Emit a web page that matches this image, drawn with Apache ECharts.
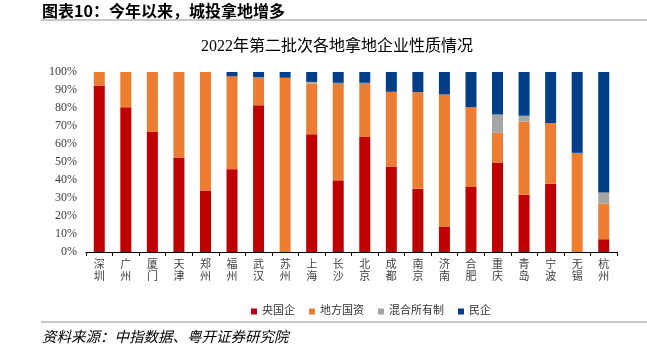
<!DOCTYPE html>
<html>
<head>
<meta charset="utf-8">
<script src="https://cdn.jsdelivr.net/npm/echarts@6/dist/echarts.min.js"></script>
<style>
  html, body { margin: 0; padding: 0; background: #fff; }
  #main { width: 647px; height: 352px; }
</style>
</head>
<body>
<div id="main"></div>
<script>
// 城市
var cities = ['深圳', '广州', '厦门', '天津', '郑州', '福州', '武汉', '苏州', '上海', '长沙',
  '北京', '成都', '南京', '济南', '合肥', '重庆', '青岛', '宁波', '无锡', '杭州'];
// 各类企业占比（%）
var centralSOE = [92.5, 80.4, 66.7, 52.5, 34.2, 46.0, 81.5, 0, 65.4, 39.8, 63.9, 47.5, 35.1, 14.2, 36.1, 49.7, 31.8, 37.9, 0, 7.1];
var localSOE = [7.5, 19.6, 33.3, 47.5, 65.8, 51.6, 15.7, 96.8, 28.2, 54.2, 30.1, 41.5, 53.7, 73.3, 44.3, 16.5, 40.7, 33.7, 55.1, 19.8];
var mixedOwner = [0, 0, 0, 0, 0, 0, 0, 0, 0.9, 0, 0, 0, 0, 0, 0, 10.2, 3.2, 0, 0, 6.2];
var privateEnt = [0, 0, 0, 0, 0, 2.4, 2.8, 3.2, 5.5, 6.0, 6.0, 11.0, 11.2, 12.5, 19.6, 23.6, 24.3, 28.4, 44.9, 66.9];
var seriesNames = ['央国企', '地方国资', '混合所有制', '民企'];
var yTicks = { min: 0, max: 100, interval: 10 };

var serif = '"Liberation Serif", "Noto Sans CJK SC", serif';
var chart = echarts.init(document.getElementById('main'));

function barSeries(name, data, color) {
  return {
    name: name,
    type: 'bar',
    stack: 'total',
    barWidth: 11,
    itemStyle: { color: color },
    emphasis: { disabled: true },
    data: data
  };
}

var option = {
  animation: false,
  color: ['#C00000', '#ED7D31', '#A5A5A5', '#003F88'],
  graphic: [
    {
      type: 'text', left: 42, top: 3,
      style: { text: '图表10：今年以来，城投拿地增多', font: 'bold 16px "Noto Sans CJK SC"', fill: '#000' }
    },
    {
      type: 'line', shape: { x1: 41, y1: 20, x2: 647, y2: 20 },
      style: { stroke: '#b4b4b4', lineWidth: 1.5 }
    },
    {
      type: 'text', x: 337, y: 47,
      style: { text: '2022年第二批次各地拿地企业性质情况', font: '16px ' + serif, fill: '#000',
        textAlign: 'center', textVerticalAlign: 'middle' }
    },
    {
      type: 'line', shape: { x1: 41, y1: 322, x2: 647, y2: 322 },
      style: { stroke: '#b4b4b4', lineWidth: 1.5 }
    },
    {
      type: 'text', left: 42, top: 329,
      style: { text: '资料来源：中指数据、粤开证券研究院', font: 'italic 14.5px "Noto Sans CJK SC"', fill: '#000' }
    }
  ],
  legend: {
    data: seriesNames,
    left: 246,
    top: 301,
    itemWidth: 6,
    itemHeight: 6,
    itemGap: 14,
    icon: 'rect',
    textStyle: { fontFamily: serif, fontSize: 11, color: '#333' }
  },
  grid: { left: 86, right: 30, top: 72, bottom: 100 },
  xAxis: {
    type: 'category',
    data: cities,
    axisLine: { lineStyle: { color: '#000', width: 1.2 } },
    axisTick: { show: true, length: 4, lineStyle: { color: '#000' } },
    axisLabel: {
      interval: 0,
      margin: 7,
      fontFamily: serif,
      fontSize: 11,
      lineHeight: 12,
      color: '#404040',
      formatter: function (v) { return v.split('').join('\n'); }
    }
  },
  yAxis: {
    type: 'value',
    min: yTicks.min,
    max: yTicks.max,
    interval: yTicks.interval,
    axisLine: { show: false },
    axisTick: { show: false },
    splitLine: { show: false },
    axisLabel: {
      margin: 9,
      fontFamily: serif,
      fontSize: 12,
      color: '#404040',
      formatter: '{value}%'
    }
  },
  series: [
    barSeries(seriesNames[0], centralSOE, '#C00000'),
    barSeries(seriesNames[1], localSOE, '#ED7D31'),
    barSeries(seriesNames[2], mixedOwner, '#A5A5A5'),
    barSeries(seriesNames[3], privateEnt, '#003F88')
  ]
};

chart.setOption(option);
</script>
</body>
</html>
